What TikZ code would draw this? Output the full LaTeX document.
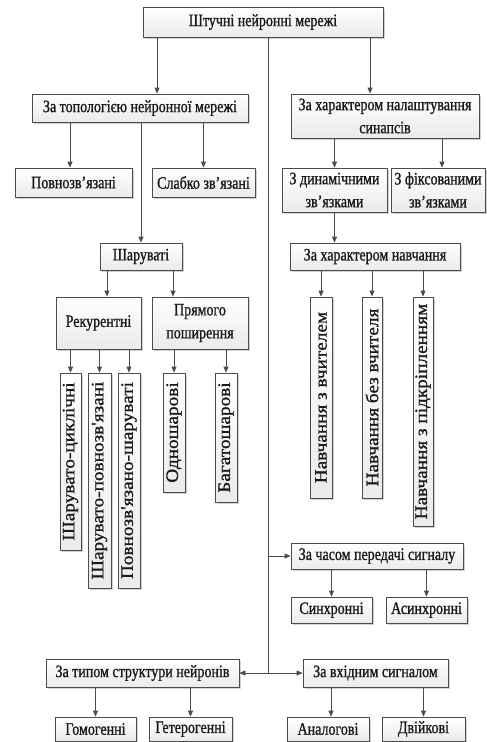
\documentclass[tikz,border=0pt]{standalone}
\usepackage{fontspec}
\setmainfont{Liberation Serif}[FakeStretch=0.8,FakeBold=1]
\newfontfamily\vfont{Liberation Serif}[FakeStretch=1.1,FakeBold=1]
\usetikzlibrary{shadows,arrows.meta}
\begin{document}
\begin{tikzpicture}[x=1pt,y=-1pt,
  box/.style={draw=black!70, line width=0.8pt, top color=white, bottom color=black!8,
    drop shadow={shadow xshift=1.5pt,shadow yshift=-1.5pt,fill=black!30,opacity=0.6},
    inner sep=0pt, align=center, font=\fontsize{17.5}{23}\selectfont, text=black!90},
  arr/.style={draw=black!70, line width=0.8pt, -{Triangle[length=6pt,width=5pt]}},
  ln/.style={draw=black!70, line width=0.8pt}]
\useasboundingbox (0,0) rectangle (487,742);
% level 1
\node[box, minimum width=240pt, minimum height=30pt] (root) at (263,22) {Штучні нейронні мережі};
\node[box, minimum width=216pt, minimum height=28pt] (topo) at (140,108) {За топологією нейронної мережі};
\node[box, minimum width=188pt, minimum height=44pt] (syn) at (385,116) {За характером налаштування\\синапсів};
\node[box, minimum width=117pt, minimum height=29pt] (full) at (73.5,182.5) {Повнозв'язані};
\node[box, minimum width=103pt, minimum height=29pt] (weak) at (203.5,182.5) {Слабко зв'язані};
\node[box, minimum width=105pt, minimum height=44pt] (dyn) at (334.5,190) {З динамічними\\зв'язками};
\node[box, minimum width=94pt, minimum height=44pt] (fix) at (438,190) {З фіксованими\\зв'язками};
\node[box, minimum width=82pt, minimum height=27pt] (layer) at (141,256.5) {Шаруваті};
\node[box, minimum width=170pt, minimum height=27pt] (learn) at (375,256.5) {За характером навчання};
\node[box, minimum width=85pt, minimum height=52pt] (rec) at (98.5,323) {Рекурентні};
\node[box, minimum width=96pt, minimum height=52pt] (ff) at (200,323) {Прямого\\поширення};
% vertical boxes
\node[box, minimum width=21pt, minimum height=177pt] (v1) at (70.5,461.5) {\rotatebox{90}{\vfont Шарувато-циклічні}};
\node[box, minimum width=23pt, minimum height=215pt] (v2) at (99.5,480.5) {\rotatebox{90}{\vfont Шарувато-повнозв'язані}};
\node[box, minimum width=22pt, minimum height=215pt] (v3) at (129,480.5) {\rotatebox{90}{\vfont Повнозв'язано-шаруваті}};
\node[box, minimum width=22pt, minimum height=119pt] (v4) at (174,432.5) {\rotatebox{90}{\vfont Одношарові}};
\node[box, minimum width=22pt, minimum height=129pt] (v5) at (226,437.5) {\rotatebox{90}{\vfont Багатошарові}};
\node[box, minimum width=22pt, minimum height=201pt] (l1) at (321,397.5) {\rotatebox{90}{\vfont Навчання з вчителем}};
\node[box, minimum width=20pt, minimum height=201pt] (l2) at (372,397.5) {\rotatebox{90}{\vfont Навчання без вчителя}};
\node[box, minimum width=20pt, minimum height=229pt] (l3) at (423,411.5) {\rotatebox{90}{\vfont Навчання з підкріпленням}};
% lower part
\node[box, minimum width=172pt, minimum height=26pt] (time) at (377,556) {За часом передачі сигналу};
\node[box, minimum width=81pt, minimum height=26pt] (sync) at (331.5,610) {Синхронні};
\node[box, minimum width=81pt, minimum height=26pt] (async) at (426.5,610) {Асинхронні};
\node[box, minimum width=193pt, minimum height=28pt] (struct) at (142.5,673) {За типом структури нейронів};
\node[box, minimum width=145pt, minimum height=28pt] (input) at (375.5,673) {За вхідним сигналом};
\node[box, minimum width=81pt, minimum height=24pt] (homo) at (95.5,729) {Гомогенні};
\node[box, minimum width=83pt, minimum height=24pt] (hetero) at (190.5,729) {Гетерогенні};
\node[box, minimum width=82pt, minimum height=24pt] (analog) at (328,729) {Аналогові};
\node[box, minimum width=83pt, minimum height=24pt] (binary) at (423.5,729) {Двійкові};
% connector x positions
\coordinate (xa) at (157,0);
\coordinate (xb) at (370,0);
\coordinate (xc) at (268,0);
\coordinate (xf) at (70,0);
\coordinate (xg) at (442,0);
\coordinate (xr) at (107,0);
\coordinate (xp) at (173,0);
\coordinate (xn) at (331,0);
% connectors
\draw[arr] (root.south -| xa) -- (topo.north -| xa);
\draw[arr] (root.south -| xb) -- (syn.north -| xb);
\draw[ln] (root.south -| xc) -- (xc |- struct.east);
\draw[arr] (xc |- time.west) -- (time.west);
\draw[arr] (xc |- struct.east) -- (struct.east);
\draw[arr] (xc |- input.west) -- (input.west);
\draw[arr] (topo.south -| xf) -- (full.north -| xf);
\draw[arr] (topo.south -| weak.north) -- (weak.north);
\draw[arr] (topo.south -| layer.north) -- (layer.north);
\draw[arr] (syn.south -| dyn.north) -- (dyn.north);
\draw[arr] (syn.south -| xg) -- (fix.north -| xg);
\draw[arr] (dyn.south) -- (learn.north -| dyn.south);
\draw[arr] (layer.south -| xr) -- (rec.north -| xr);
\draw[arr] (layer.south -| xp) -- (ff.north -| xp);
\draw[arr] (rec.south -| v1.north) -- (v1.north);
\draw[arr] (rec.south -| v2.north) -- (v2.north);
\draw[arr] (rec.south -| v3.north) -- (v3.north);
\draw[arr] (ff.south -| v4.north) -- (v4.north);
\draw[arr] (ff.south -| v5.north) -- (v5.north);
\draw[arr] (learn.south -| l1.north) -- (l1.north);
\draw[arr] (learn.south -| l2.north) -- (l2.north);
\draw[arr] (learn.south -| l3.north) -- (l3.north);
\draw[arr] (time.south -| sync.north) -- (sync.north);
\draw[arr] (time.south -| async.north) -- (async.north);
\draw[arr] (struct.south -| homo.north) -- (homo.north);
\draw[arr] (struct.south -| hetero.north) -- (hetero.north);
\draw[arr] (input.south -| xn) -- (analog.north -| xn);
\draw[arr] (input.south -| binary.north) -- (binary.north);
\end{tikzpicture}
\end{document}
